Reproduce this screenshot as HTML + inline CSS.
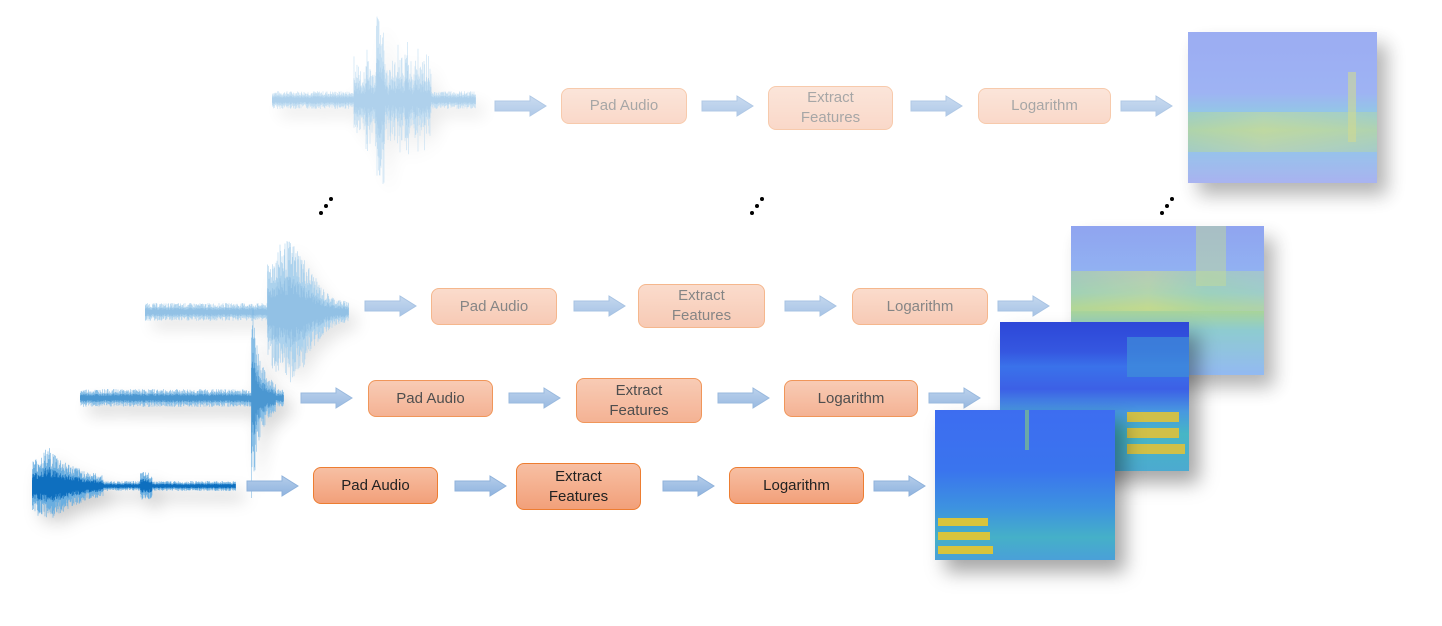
<!DOCTYPE html>
<html><head><meta charset="utf-8"><style>
body{margin:0;width:1442px;height:626px;background:#fff;position:relative;overflow:hidden;font-family:"Liberation Sans",sans-serif}
.b{position:absolute;box-sizing:border-box;border:1.5px solid #ed7d31;border-radius:8px;background:linear-gradient(#f7bfa3,#f2a07a);color:#222;font-size:15px;text-align:center;display:flex;align-items:center;justify-content:center;line-height:20px}
.a{position:absolute;width:53px;height:22px}
.s{position:absolute;box-shadow:10px 12px 18px rgba(0,0,0,.35)}
.g{position:absolute;filter:drop-shadow(8px 10px 8px rgba(0,0,0,.2))}
.d{position:absolute;width:4px;height:4px;border-radius:2px;background:#000}
</style></head><body>
<svg width="0" height="0" style="position:absolute"><defs>
<linearGradient id="ag" x1="0" y1="0" x2="0" y2="1"><stop offset="0" stop-color="#b4cdea"/><stop offset="1" stop-color="#8fb3df"/></linearGradient>
</defs></svg>
<div id="root"></div>
<div class="d" style="left:319px;top:211px"></div><div class="d" style="left:324px;top:204px"></div><div class="d" style="left:329px;top:197px"></div>
<div class="d" style="left:750px;top:211px"></div><div class="d" style="left:755px;top:204px"></div><div class="d" style="left:760px;top:197px"></div>
<div class="d" style="left:1160px;top:211px"></div><div class="d" style="left:1165px;top:204px"></div><div class="d" style="left:1170px;top:197px"></div>
<script>
var rows=[
{o:0.4,c:100,wx:272,pad:[561,88,126,36],ext:[768,86,125,44],log:[978,88,133,36],ar:[494,701,910,1120],sp:[1188,32,189,151],env:function(t){var a=9;if(t>0.4&&t<0.78)a+=14+45*Math.random()*Math.random();if(Math.abs(t-0.53)<0.02)a=85;if(Math.abs(t-0.66)<0.01)a=70;return a},col:'#3a8fd0',sty:0},
{o:0.55,c:312,wx:145,pad:[431,288,126,37],ext:[638,284,127,44],log:[852,288,136,37],ar:[364,573,784,997],sp:[1071,226,193,149],env:function(t){var a=9;if(t>0.6)a=10+62*Math.exp(-(t-0.7)*(t-0.7)*50);return a},col:'#3a8fd0',sty:1},
{o:0.8,c:398,wx:80,pad:[368,380,125,37],ext:[576,378,126,45],log:[784,380,134,37],ar:[300,508,717,928],sp:[1000,322,189,149],env:function(t){var a=9;if(t>0.84&&t<0.96)a=14+55*Math.exp(-(t-0.86)*30);return a},col:'#1f7ec6',sty:2},
{o:1,c:486,wx:32,pad:[313,467,125,37],ext:[516,463,125,47],log:[729,467,135,37],ar:[246,454,662,873],sp:[935,410,180,150],env:function(t){var a=5;if(t<0.35)a=34*Math.exp(-Math.abs(t-0.08)*7)+6;if(Math.abs(t-0.56)<0.03)a=14;return a},col:'#0e6fbf',sty:3}];
var seed=7;function R(){seed=(seed*9301+49297)%233280;return seed/233280;}
var root=document.getElementById('root');var h='';
function box(b,t,o){return '<div class="b" style="opacity:'+o+';left:'+b[0]+'px;top:'+b[1]+'px;width:'+b[2]+'px;height:'+b[3]+'px">'+t+'</div>'}
var specs=['linear-gradient(180deg,#8a9ff0 0%,#8ea6f2 40%,#7fc0e0 55%,#a9cf9a 65%,#86b8e8 80%,#9aa6ee 100%)',
'linear-gradient(180deg,#7d95ee 0%,#7ea4f0 30%,#6fc1d8 45%,#9fcf7e 55%,#7bc3c8 70%,#80aef0 100%)',
'linear-gradient(180deg,#2d47d8 0%,#3557e0 20%,#3a72ea 30%,#3c60e6 45%,#4898e0 60%,#46b6c6 75%,#4caad0 100%)',
'linear-gradient(180deg,#3d6df0 0%,#3a74ee 40%,#3d92e0 65%,#45b0c8 85%,#4aa0d8 100%)'];
for(var i=0;i<rows.length;i++){var r=rows[i];
 var p='',p2='';for(var x=0;x<204;x+=0.5){var a=r.env(x/204);var u=a*(0.45+0.55*R()),d=a*(0.45+0.55*R());p+='M'+x+' '+(100-u).toFixed(1)+'V'+(100+d).toFixed(1);p2+='M'+x+' '+(100-u*0.5).toFixed(1)+'V'+(100+d*0.5).toFixed(1);}
 h+='<svg class="g" style="left:'+r.wx+'px;top:'+(r.c-100)+'px;opacity:'+r.o+'" width="206" height="200"><path d="'+p+'" stroke="#6aaee0" stroke-width="0.6" fill="none"/><path d="'+p2+'" stroke="'+r.col+'" stroke-width="0.6" fill="none"/></svg>';
 h+=box(r.pad,'Pad Audio',r.o)+box(r.ext,'Extract<br>Features',r.o)+box(r.log,'Logarithm',r.o);
 for(var k=0;k<4;k++){h+='<svg class="a" style="left:'+r.ar[k]+'px;top:'+(r.c-11+(i==0?6:(i==1?-6:0)))+'px;opacity:'+(0.5+r.o/2)+'" viewBox="0 0 53 22"><path d="M1 6H36V1L52 11L36 21V16H1Z" fill="url(#ag)" stroke="#8fb2db" stroke-width="1"/></svg>';}
 var sp=r.sp;
 var extra='';
 if(i==3) extra='<div style="position:absolute;left:3px;top:108px;width:50px;height:8px;background:#d9c43c"></div><div style="position:absolute;left:3px;top:122px;width:52px;height:8px;background:#d9c43c"></div><div style="position:absolute;left:3px;top:136px;width:55px;height:8px;background:#d9c43c"></div><div style="position:absolute;left:90px;top:0;width:4px;height:40px;background:#7fc08a;opacity:.7"></div>';
 if(i==2) extra='<div style="position:absolute;left:127px;top:90px;width:52px;height:10px;background:#d0c048"></div><div style="position:absolute;left:127px;top:106px;width:52px;height:10px;background:#d0c048"></div><div style="position:absolute;left:127px;top:122px;width:58px;height:10px;background:#d0c048"></div><div style="position:absolute;left:127px;top:15px;width:62px;height:40px;background:#3f8fd8;opacity:.7"></div>';
 if(i==1) extra='<div style="position:absolute;left:0;top:45px;width:193px;height:40px;background:linear-gradient(90deg,#a8cf8a,#c9d67a 40%,#9fcf9a 70%,#a3c8b0);opacity:.6"></div><div style="position:absolute;left:125px;top:0;width:30px;height:60px;background:#b8d488;opacity:.5"></div>';
 if(i==0) extra='<div style="position:absolute;left:0;top:80px;width:189px;height:40px;background:linear-gradient(90deg,#9ccb9e,#bcd58a 40%,#9fcaa8);opacity:.6"></div><div style="position:absolute;left:160px;top:40px;width:8px;height:70px;background:#c8d480;opacity:.6"></div>';
 h+='<div class="s" style="left:'+sp[0]+'px;top:'+sp[1]+'px;width:'+sp[2]+'px;height:'+sp[3]+'px;background:'+specs[i]+(i<2?';opacity:.85':'')+'">'+extra+'</div>';
}
root.innerHTML=h;
</script>
</body></html>
